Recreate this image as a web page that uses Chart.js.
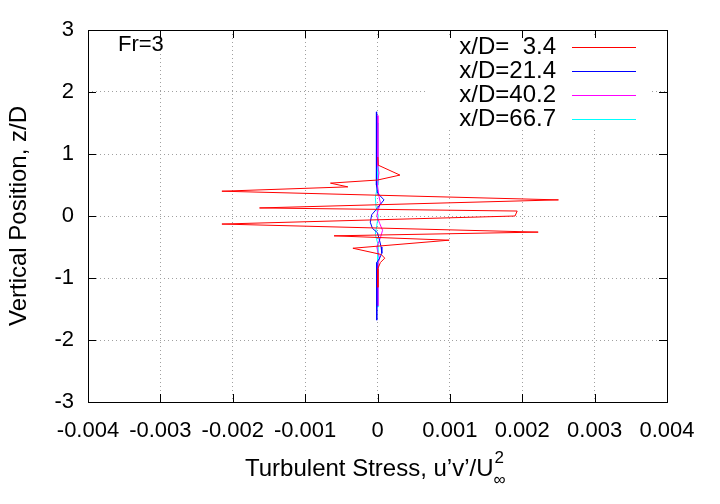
<!DOCTYPE html>
<html lang="en">
<head>
<meta charset="UTF-8">
<title>Turbulent Stress Fr=3</title>
<script src="https://cdn.jsdelivr.net/npm/chart.js"></script>
<style>
  html, body { margin: 0; padding: 0; background: #fff; }
  #wrap { width: 720px; height: 504px; }
</style>
</head>
<body>
<div id="wrap"><canvas id="chart" width="720" height="504"></canvas></div>
<script>
// tick values / labels
const xTickValues = [-0.004, -0.003, -0.002, -0.001, 0, 0.001, 0.002, 0.003, 0.004];
const xTickLabels = ['-0.004', '-0.003', '-0.002', '-0.001', '0', '0.001', '0.002', '0.003', '0.004'];
const yTickValues = [-3, -2, -1, 0, 1, 2, 3];
const yTickLabels = ['-3', '-2', '-1', '0', '1', '2', '3'];

const seriesNames = ['x/D=  3.4', 'x/D=21.4', 'x/D=40.2', 'x/D=66.7'];
const seriesColors = ['#ff0000', '#0000ff', '#ff00ff', '#00ffff'];

// x/D = 3.4
const z1 = [0.95, 0.82, 0.66, 0.58, 0.53, 0.47, 0.40, 0.26, 0.13, 0.08, 0.0, -0.13, -0.26, -0.32, -0.39, -0.52, -0.62, -0.68, -0.75, -0.85, -1.15];
const uv1 = [0.000005, 0.00001, 0.00031, 0, -0.00065, -0.00041, -0.00215, 0.0025, -0.00163, 0.00193, 0.0019, -0.00215, 0.00222, -0.0006, 0.00099, -0.00034, 0.00005, 0.0001, 0.00004, 0.000005, 0.000005];
// x/D = 21.4
const z2 = [1.68, 0.6, 0.5, 0.37, 0.26, 0.13, 0.02, -0.1, -0.2, -0.27, -0.4, -0.5, -0.6, -0.68, -0.75, -1.68];
const uv2 = [-0.00001, -0.00001, -0.00002, 0, 0.00009, 0, -0.00008, -0.0001, -0.00007, 0, 0.00003, 0.00005, 0.00006, 0.00003, -0.00001, -0.00001];
// x/D = 40.2
const z3 = [1.62, 0.8, 0.7, 0.5, 0.32, 0.21, 0.1, 0, -0.12, -0.23, -0.35, -0.5, -0.6, -0.68, -0.78, -1.45];
const uv3 = [0.000005, 0.000005, 0.00002, 0, 0.00002, 0.00004, 0.00001, -0.00001, 0.00003, 0.00007, 0.00004, -0.00001, 0.00001, 0.00003, 0.000005, 0.000005];
// x/D = 66.7
const z4 = [1.5, 0.5, 0.3, 0.15, 0, -0.15, -0.3, -0.45, -1.47];
const uv4 = [0.000005, 0.000005, -0.00003, -0.00002, 0.00001, -0.00001, -0.00003, 0.000005, 0.000005];

const zs = [z1, z2, z3, z4];
const uvs = [uv1, uv2, uv3, uv4];

const FONT = '"Liberation Sans", Arial, sans-serif';

const datasets = seriesNames.map((name, i) => ({
    label: name,
    data: zs[i].map((z, k) => ({ x: uvs[i][k], y: z })),
    borderColor: seriesColors[i],
    backgroundColor: seriesColors[i],
    borderWidth: 1,
    pointRadius: 0,
    showLine: true,
    tension: 0
}));

// frame, inward ticks, key and axis titles drawn gnuplot style
const decorPlugin = {
    id: 'decor',
    afterDraw(chart) {
        const ctx = chart.ctx;
        const a = chart.chartArea;
        const xs = chart.scales.x, ys = chart.scales.y;
        ctx.save();

        // key background
        ctx.fillStyle = '#fff';
        ctx.fillRect(428, 37, 222, 92);

        // frame
        ctx.strokeStyle = '#000';
        ctx.lineWidth = 1;
        ctx.strokeRect(a.left + 0.5, a.top + 0.5, a.right - a.left, a.bottom - a.top);

        // inward ticks on all sides
        const tl = 8;
        ctx.beginPath();
        xTickValues.forEach(v => {
            const px = Math.round(xs.getPixelForValue(v)) + 0.5;
            ctx.moveTo(px, a.bottom); ctx.lineTo(px, a.bottom - tl);
            ctx.moveTo(px, a.top); ctx.lineTo(px, a.top + tl);
        });
        yTickValues.forEach(v => {
            const py = Math.round(ys.getPixelForValue(v)) + 0.5;
            ctx.moveTo(a.left, py); ctx.lineTo(a.left + tl, py);
            ctx.moveTo(a.right, py); ctx.lineTo(a.right - tl, py);
        });
        ctx.stroke();

        // key
        ctx.font = '24px ' + FONT;
        ctx.fillStyle = '#000';
        ctx.textAlign = 'right';
        ctx.textBaseline = 'middle';
        const rows = [47, 71, 95, 119];
        seriesNames.forEach((name, i) => {
            ctx.fillText(name, 556, rows[i]);
            ctx.strokeStyle = seriesColors[i];
            ctx.beginPath();
            ctx.moveTo(572, rows[i] + 0.5);
            ctx.lineTo(636, rows[i] + 0.5);
            ctx.stroke();
        });

        // label
        ctx.font = '22px ' + FONT;
        ctx.textAlign = 'left';
        ctx.fillText('Fr=3', 118, 45);

        // x title with U-infinity squared
        const main = 'Turbulent Stress, u\u2019v\u2019/U';
        ctx.font = '24px ' + FONT;
        const wMain = ctx.measureText(main).width;
        ctx.font = '17px ' + FONT;
        const wSup = ctx.measureText('2').width;
        const x0 = 374 - (wMain + wSup) / 2;
        ctx.textBaseline = 'alphabetic';
        ctx.font = '24px ' + FONT;
        ctx.fillText(main, x0, 476);
        ctx.font = '17px ' + FONT;
        ctx.fillText('2', x0 + wMain + 1, 463);
        ctx.fillText('\u221E', x0 + wMain, 485);

        // y title
        ctx.font = '24px ' + FONT;
        ctx.translate(19, 216);
        ctx.rotate(-Math.PI / 2);
        ctx.textAlign = 'center';
        ctx.textBaseline = 'middle';
        ctx.fillText('Vertical Position, z/D', 0, 0);

        ctx.restore();
    }
};

new Chart(document.getElementById('chart'), {
    type: 'scatter',
    data: { datasets: datasets },
    options: {
        responsive: false,
        animation: false,
        events: [],
        layout: { padding: { left: 0, right: 53, top: 30, bottom: 0 } },
        plugins: { legend: { display: false }, tooltip: { enabled: false } },
        scales: {
            x: {
                type: 'linear',
                min: -0.004,
                max: 0.004,
                afterBuildTicks: s => { s.ticks = xTickValues.map(v => ({ value: v })); },
                afterFit: s => { s.height = 102; },
                ticks: {
                    autoSkip: false,
                    maxRotation: 0,
                    padding: 16,
                    color: '#000',
                    font: { family: FONT, size: 22 },
                    callback: (v, i) => xTickLabels[i]
                },
                grid: { color: '#a0a0a0', lineWidth: 1, drawTicks: false },
                border: { display: false, dash: [1, 3] }
            },
            y: {
                type: 'linear',
                min: -3,
                max: 3,
                afterBuildTicks: s => { s.ticks = yTickValues.map(v => ({ value: v })); },
                afterFit: s => { s.width = 88; },
                ticks: {
                    autoSkip: false,
                    padding: 14,
                    color: '#000',
                    font: { family: FONT, size: 22 },
                    callback: (v, i) => yTickLabels[i]
                },
                grid: { color: '#a0a0a0', lineWidth: 1, drawTicks: false },
                border: { display: false, dash: [1, 3] }
            }
        }
    },
    plugins: [decorPlugin]
});
</script>
</body>
</html>
